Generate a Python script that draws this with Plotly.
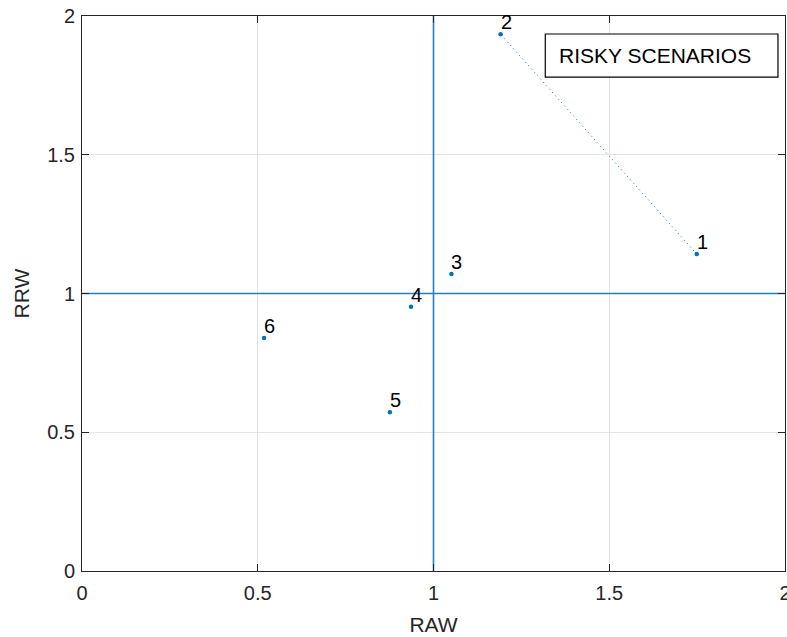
import plotly.graph_objects as go

# Data
scenario_labels = ["1", "2", "3", "4", "5", "6"]
raw_values = [1.749, 1.191, 1.051, 0.936, 0.876, 0.518]
rrw_values = [1.142, 1.934, 1.070, 0.952, 0.572, 0.840]
tick_vals = [0, 0.5, 1, 1.5, 2]
tick_text = ["0", "0.5", "1", "1.5", "2"]
threshold = 1
legend_text = "RISKY SCENARIOS"

BLUE = "#0072BD"
LINE_BLUE = "#1f80c8"
AX = "#262626"
FONT = "Liberation Sans, Arial, Helvetica, sans-serif"

fig = go.Figure()

# threshold lines
fig.add_trace(go.Scatter(x=[threshold, threshold], y=[tick_vals[0], tick_vals[-1]], mode="lines",
                         line=dict(color=LINE_BLUE, width=1.6), showlegend=False, hoverinfo="skip"))
fig.add_trace(go.Scatter(x=[tick_vals[0], tick_vals[-1]], y=[threshold, threshold], mode="lines",
                         line=dict(color=LINE_BLUE, width=1.6), showlegend=False, hoverinfo="skip"))
# dotted segment between scenario 1 and 2
fig.add_trace(go.Scatter(x=raw_values[:2], y=rrw_values[:2], mode="lines",
                         line=dict(color=BLUE, width=1, dash="1px,3.5px"), showlegend=False))
# points
fig.add_trace(go.Scatter(x=raw_values, y=rrw_values, mode="markers",
                         marker=dict(color=BLUE, size=4.5), showlegend=False))

for lab, xv, yv in zip(scenario_labels, raw_values, rrw_values):
    fig.add_annotation(x=xv, y=yv, text=lab, showarrow=False, xanchor="left", yanchor="bottom",
                       xshift=-2, yshift=-1, font=dict(family=FONT, size=20, color="black"))

# legend-like box
fig.add_shape(type="rect", xref="paper", yref="paper", x0=0.659, x1=0.990, y0=0.890, y1=0.9676,
              line=dict(color="black", width=1.2), fillcolor="white", layer="above")
fig.add_annotation(xref="paper", yref="paper", x=0.6757, y=0.9288, text=legend_text, showarrow=False,
                   xanchor="left", yanchor="middle", font=dict(family=FONT, size=21, color="black"))

axis_common = dict(
    range=[tick_vals[0], tick_vals[-1]], tickvals=tick_vals, ticktext=tick_text,
    showgrid=True, gridcolor="#e3e3e3", gridwidth=1,
    showline=True, linecolor=AX, linewidth=1, mirror="ticks",
    ticks="inside", ticklen=7, tickcolor=AX, tickwidth=1,
    zeroline=False, tickfont=dict(family=FONT, size=20, color=AX),
    automargin=False, ticklabeloverflow="allow",
)

fig.update_layout(
    width=787, height=637,
    margin=dict(l=82, r=2, t=16, b=66),
    plot_bgcolor="white", paper_bgcolor="white",
    xaxis=dict(**axis_common, title=dict(text="RAW", font=dict(family=FONT, size=21, color=AX), standoff=14),
               ticklabelstandoff=4),
    yaxis=dict(**axis_common, title=dict(text="RRW", font=dict(family=FONT, size=21, color=AX), standoff=11),
               ticklabelstandoff=2),
    showlegend=False,
)

fig.write_html("out.html", config={"displayModeBar": False},
               post_script="document.body.style.margin='0';document.documentElement.style.overflow='hidden';")
